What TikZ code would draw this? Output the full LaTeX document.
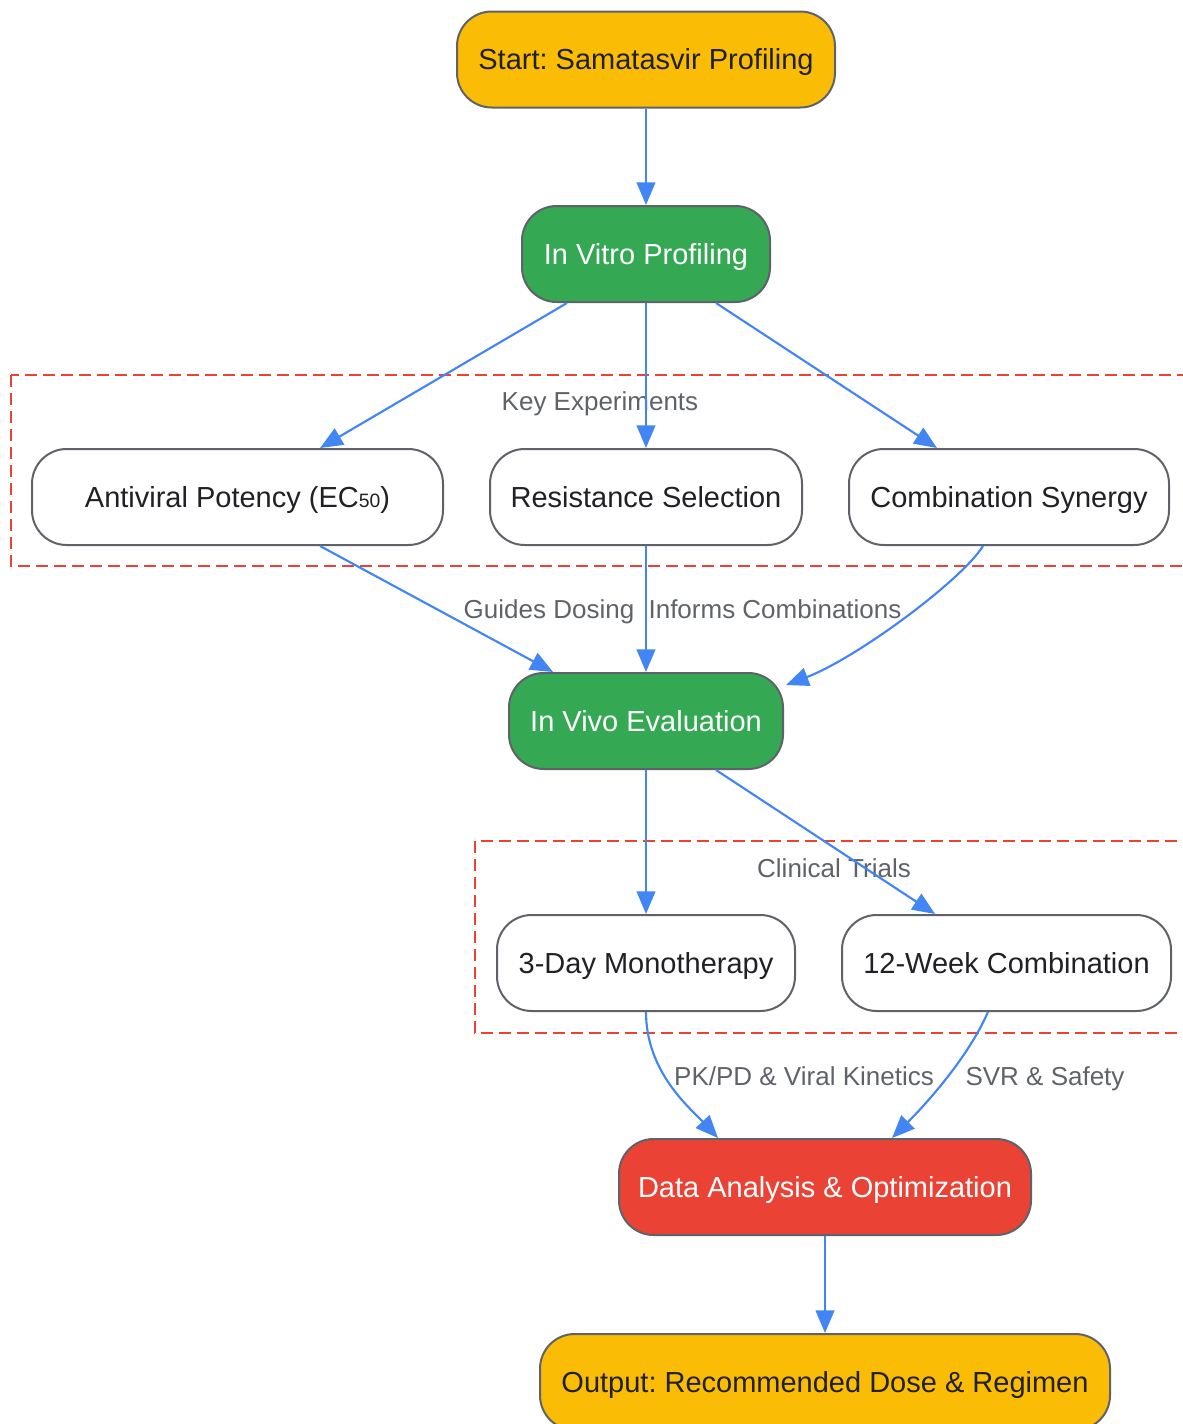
\documentclass[tikz,border=0pt]{standalone}
\usepackage{fontspec}
\setmainfont{Liberation Sans}
\frenchspacing
\usetikzlibrary{arrows.meta}
\definecolor{gyellow}{HTML}{FBBC05}
\definecolor{ggreen}{HTML}{34A853}
\definecolor{gred}{HTML}{EA4335}
\definecolor{gblue}{HTML}{4285F4}
\definecolor{ggray}{HTML}{5F6368}
\definecolor{gtext}{HTML}{202124}
\begin{document}
\begin{tikzpicture}[>={Triangle[length=17pt,width=14pt]},x=0.75pt,y=-0.75pt,
  box/.style={draw=ggray,line width=1.5pt,rounded corners=26pt,minimum height=72pt,
    inner sep=0pt,text height=15.5pt,text depth=0pt,text=gtext,font=\fontsize{21.75}{26}\selectfont},
  startbox/.style={box,fill=gyellow},
  stagebox/.style={box,fill=ggreen,text=white},
  databox/.style={box,fill=gred,text=white},
  testbox/.style={box,fill=white},
  cluster/.style={draw=gred,line width=2pt,dash pattern=on 9pt off 4.5pt},
  lbl/.style={text=ggray,font=\fontsize{19.5}{23}\selectfont,inner sep=0pt,text height=14pt,text depth=0pt},
  flow/.style={->,draw=gblue,line width=1.6pt}]
\useasboundingbox (0,0) rectangle (1182,1424);

\draw[cluster] (11,375) rectangle (1192,566);
\draw[cluster] (475,841) rectangle (1192,1033);
\node[lbl] (keylbl) at (600,401) {Key Experiments};
\node[lbl] (clinlbl) at (834,868) {Clinical Trials};

\node[startbox,minimum width=283.5pt] (start) at (646,59.5) {Start: Samatasvir Profiling};
\node[stagebox,minimum width=186pt] (vitro) at (646,254) {In Vitro Profiling};
\node[testbox,minimum width=308.25pt] (potency) at (237.5,497)
  {Antiviral Potency (EC{\fontsize{14.5}{16}\selectfont 50})};
\node[testbox,minimum width=234pt] (resist) at (646,497) {Resistance Selection};
\node[testbox,minimum width=240pt] (synergy) at (1009,497) {Combination Synergy};
\node[stagebox,minimum width=205.5pt] (vivo) at (646,721) {In Vivo Evaluation};
\node[testbox,minimum width=223.5pt] (mono) at (646,963) {3-Day Monotherapy};
\node[testbox,minimum width=246.75pt] (combo) at (1006.5,963) {12-Week Combination};
\node[databox,minimum width=309pt] (data) at (825,1187) {Data Analysis \& Optimization};
\node[startbox,minimum width=427.5pt] (output) at (825,1382) {Output: Recommended Dose \& Regimen};

\draw[flow] (start) -- (vitro);
\draw[flow] ([xshift=-59.25pt]vitro.south) -- ([xshift=61.9pt]potency.north);
\draw[flow] (vitro) -- (resist);
\draw[flow] ([xshift=52.5pt]vitro.south) -- ([xshift=-54pt]synergy.north);
\draw[flow] ([xshift=61.9pt]potency.south) -- ([xshift=-69.75pt]vivo.north);
\draw[flow] (resist) -- (vivo);
\draw[flow] ([xshift=-19.5pt]synergy.south) .. controls +(-21,34) and +(71,-27) .. ([xshift=1.5pt,yshift=-9.75pt]vivo.north east);
\draw[flow] (vivo) -- (mono);
\draw[flow] ([xshift=52.5pt]vivo.south) -- ([xshift=-53.6pt]combo.north);
\draw[flow] (mono.south) .. controls +(0,60) and +(-28,-30) .. ([xshift=-80.25pt]data.north);
\draw[flow] ([xshift=-13.9pt]combo.south) .. controls +(-20,46) and +(33,-33) .. ([xshift=50.25pt]data.north);
\draw[flow] (data) -- (output);

\node[lbl] (dosing) at (549,609) {Guides Dosing};
\node[lbl] (informs) at (775,609) {Informs Combinations};
\node[lbl] (pkpd) at (804,1076) {PK/PD \& Viral Kinetics};
\node[lbl] (svr) at (1045,1076) {SVR \& Safety};
\end{tikzpicture}
\end{document}
